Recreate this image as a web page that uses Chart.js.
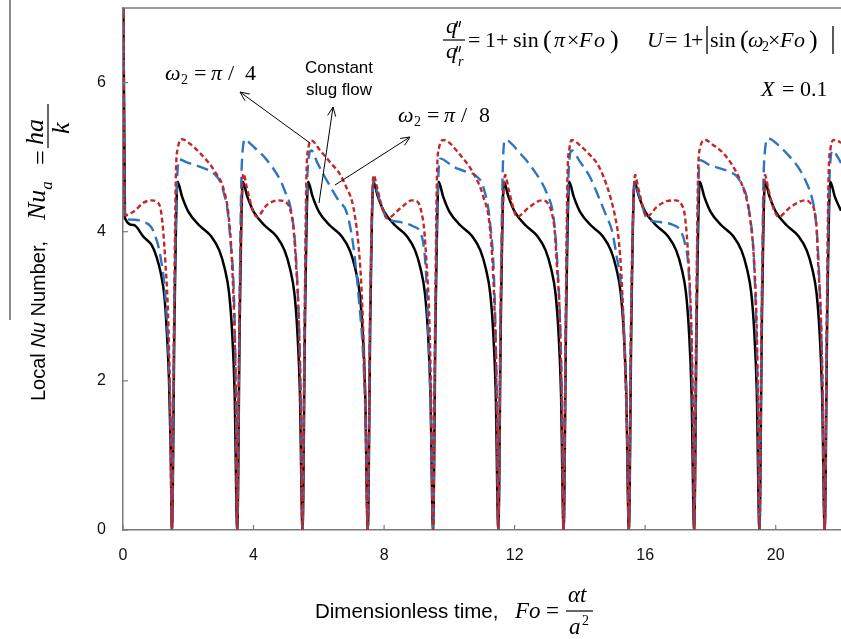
<!DOCTYPE html>
<html>
<head>
<meta charset="utf-8">
<script src="https://cdn.jsdelivr.net/npm/chart.js@4.4.1/dist/chart.umd.min.js"></script>
<style>
  html, body { margin: 0; padding: 0; background: #ffffff; }
  #wrap { width: 841px; height: 639px; }
</style>
</head>
<body>
<div id="wrap"><canvas id="c" width="841" height="639"></canvas></div>
<script>
// Tick positions
const xTicks = [0, 4, 8, 12, 16, 20];
const yTicks = [0, 2, 4, 6];

// Constant slug flow (solid black)
const foSlug = [
  0, 0.06, 0.33, 0.63, 0.88, 1.03, 1.16, 1.27, 1.34, 1.41, 1.46, 1.5,
  1.58, 1.67, 1.81, 2.0, 2.35, 2.7, 2.95, 3.12, 3.25, 3.34, 3.42, 3.5,
  3.58, 3.67, 3.81, 4.0, 4.35, 4.7, 4.95, 5.12, 5.25, 5.34, 5.42, 5.5,
  5.58, 5.67, 5.81, 6.0, 6.35, 6.7, 6.95, 7.12, 7.25, 7.34, 7.42, 7.5,
  7.58, 7.67, 7.81, 8.0, 8.35, 8.7, 8.95, 9.12, 9.25, 9.34, 9.42, 9.5,
  9.58, 9.67, 9.81, 10.0, 10.35, 10.7, 10.95, 11.12, 11.25, 11.34, 11.42, 11.5,
  11.58, 11.67, 11.81, 12.0, 12.35, 12.7, 12.95, 13.12, 13.25, 13.34, 13.42, 13.5,
  13.58, 13.67, 13.81, 14.0, 14.35, 14.7, 14.95, 15.12, 15.25, 15.34, 15.42, 15.5,
  15.58, 15.67, 15.81, 16.0, 16.35, 16.7, 16.95, 17.12, 17.25, 17.34, 17.42, 17.5,
  17.58, 17.67, 17.81, 18.0, 18.35, 18.7, 18.95, 19.12, 19.25, 19.34, 19.42, 19.5,
  19.58, 19.67, 19.81, 20.0, 20.35, 20.7, 20.95, 21.12, 21.25, 21.34, 21.42, 21.5,
  21.58, 21.67, 21.81, 22.0
];
const nuSlug = [
  8, 4.18, 4.09, 3.93, 3.82, 3.66, 3.44, 3.13, 2.68, 2.01, 1.12, 0,
  2.9, 4.67, 4.47, 4.27, 4.08, 3.94, 3.75, 3.5, 3.18, 2.68, 1.85, 0,
  2.9, 4.67, 4.47, 4.27, 4.08, 3.94, 3.75, 3.5, 3.18, 2.68, 1.85, 0,
  2.9, 4.67, 4.47, 4.27, 4.08, 3.94, 3.75, 3.5, 3.18, 2.68, 1.85, 0,
  2.9, 4.67, 4.47, 4.27, 4.08, 3.94, 3.75, 3.5, 3.18, 2.68, 1.85, 0,
  2.9, 4.67, 4.47, 4.27, 4.08, 3.94, 3.75, 3.5, 3.18, 2.68, 1.85, 0,
  2.9, 4.67, 4.47, 4.27, 4.08, 3.94, 3.75, 3.5, 3.18, 2.68, 1.85, 0,
  2.9, 4.67, 4.47, 4.27, 4.08, 3.94, 3.75, 3.5, 3.18, 2.68, 1.85, 0,
  2.9, 4.67, 4.47, 4.27, 4.08, 3.94, 3.75, 3.5, 3.18, 2.68, 1.85, 0,
  2.9, 4.67, 4.47, 4.27, 4.08, 3.94, 3.75, 3.5, 3.18, 2.68, 1.85, 0,
  2.9, 4.67, 4.47, 4.27, 4.08, 3.94, 3.75, 3.5, 3.18, 2.68, 1.85, 0,
  2.9, 4.67, 4.47, 4.28
];

// omega2 = pi/4 (red short dash)
const foW4 = [
  0, 0.06, 0.33, 0.63, 0.88, 1.03, 1.15, 1.23, 1.3, 1.38, 1.44, 1.5,
  1.56, 1.62, 1.68, 1.81, 2.05, 2.37, 2.78, 3.09, 3.24, 3.34, 3.44, 3.47, 3.5,
  3.57, 3.69, 3.79, 3.89, 3.99, 4.1, 4.41, 4.77, 4.97, 5.13, 5.23, 5.3, 5.38, 5.44, 5.5,
  5.56, 5.62, 5.68, 5.78, 6.04, 6.35, 6.65, 6.86, 7.01, 7.11, 7.22, 7.32, 7.42, 7.5,
  7.57, 7.68, 7.78, 7.88, 7.98, 8.09, 8.49, 8.85, 9.03, 9.13, 9.23, 9.3, 9.38, 9.44, 9.5,
  9.56, 9.62, 9.68, 9.82, 10.33, 10.74, 11.04, 11.25, 11.37, 11.45, 11.5,
  11.57, 11.71, 11.81, 11.91, 11.99, 12.07, 12.45, 12.83, 13.0, 13.14, 13.23, 13.29, 13.38, 13.44, 13.5,
  13.56, 13.62, 13.68, 13.75, 14.0, 14.26, 14.52, 14.72, 14.93, 15.08, 15.18, 15.28, 15.38, 15.45, 15.5,
  15.57, 15.69, 15.79, 15.89, 15.97, 16.05, 16.35, 16.66, 16.92, 17.12, 17.22, 17.33, 17.43, 17.47, 17.5,
  17.56, 17.62, 17.68, 17.84, 18.09, 18.4, 18.7, 18.91, 19.06, 19.16, 19.26, 19.34, 19.42, 19.46, 19.5,
  19.57, 19.67, 19.77, 19.87, 19.97, 20.08, 20.45, 20.9, 21.05, 21.2, 21.26, 21.3, 21.38, 21.44, 21.5,
  21.56, 21.62, 21.68, 21.78, 21.9, 22.0
];
const nuW4 = [
  8, 4.22, 4.27, 4.39, 4.42, 4.4, 4.31, 4.02, 3.58, 2.9, 1.8, 0,
  2.6, 4.75, 5.12, 5.24, 5.18, 5.05, 4.83, 4.56, 4.2, 3.58, 2.24, 1.3, 0,
  2.9, 4.78, 4.6, 4.42, 4.27, 4.2, 4.36, 4.42, 4.4, 4.29, 4.02, 3.58, 2.91, 1.8, 0,
  2.6, 4.75, 5.12, 5.22, 5.09, 4.93, 4.77, 4.58, 4.42, 4.2, 3.8, 3.13, 1.79, 0,
  2.9, 4.76, 4.6, 4.42, 4.27, 4.18, 4.31, 4.42, 4.4, 4.29, 4.02, 3.58, 2.91, 1.8, 0,
  2.6, 4.75, 5.12, 5.23, 5.03, 4.78, 4.47, 4.02, 3.13, 1.79, 0,
  2.9, 4.76, 4.58, 4.4, 4.27, 4.2, 4.33, 4.42, 4.39, 4.25, 4.0, 3.58, 2.9, 1.8, 0,
  2.6, 4.75, 5.12, 5.23, 5.16, 5.05, 4.92, 4.74, 4.47, 4.2, 3.93, 3.35, 2.23, 1.2, 0,
  2.9, 4.76, 4.58, 4.4, 4.27, 4.2, 4.33, 4.41, 4.42, 4.36, 4.2, 3.58, 2.46, 1.4, 0,
  2.6, 4.75, 5.12, 5.23, 5.16, 5.05, 4.87, 4.69, 4.51, 4.33, 4.02, 3.58, 2.68, 1.6, 0,
  2.9, 4.76, 4.58, 4.4, 4.27, 4.2, 4.33, 4.42, 4.39, 4.25, 4.0, 3.58, 2.9, 1.8, 0,
  2.6, 4.75, 5.12, 5.23, 5.22, 5.19
];

// omega2 = pi/8 (blue long dash)
const foW8 = [
  0, 0.06, 0.35, 0.63, 0.85, 1.0, 1.15, 1.3, 1.4, 1.46, 1.5,
  1.57, 1.65, 1.72, 1.96, 2.37, 2.78, 2.98, 3.1, 3.19, 3.29, 3.4, 3.46, 3.5,
  3.57, 3.64, 3.75, 3.9, 4.41, 4.82, 5.0, 5.13, 5.28, 5.38, 5.45, 5.5,
  5.57, 5.65, 5.77, 5.95, 6.14, 6.45, 6.6, 6.86, 7.06, 7.22, 7.37, 7.45, 7.5,
  7.57, 7.68, 7.78, 7.88, 7.98, 8.09, 8.49, 8.9, 9.16, 9.29, 9.38, 9.45, 9.5,
  9.57, 9.65, 9.72, 10.13, 10.54, 10.84, 11.04, 11.25, 11.37, 11.45, 11.5,
  11.57, 11.64, 11.71, 12.17, 12.58, 12.99, 13.19, 13.3, 13.4, 13.46, 13.5,
  13.57, 13.65, 13.75, 14.0, 14.3, 14.57, 14.82, 14.98, 15.13, 15.23, 15.33, 15.43, 15.5,
  15.57, 15.69, 15.79, 15.89, 15.97, 16.05, 16.45, 16.86, 17.07, 17.22, 17.33, 17.42, 17.47, 17.5,
  17.57, 17.63, 17.68, 17.99, 18.29, 18.6, 18.81, 19.0, 19.11, 19.21, 19.31, 19.4, 19.46, 19.5,
  19.57, 19.64, 19.77, 20.13, 20.44, 20.74, 20.95, 21.1, 21.2, 21.27, 21.35, 21.43, 21.5,
  21.57, 21.65, 21.75, 21.9, 22.0
];
const nuW8 = [
  8, 4.18, 4.16, 4.13, 4.07, 3.93, 3.66, 3.13, 2.3, 1.4, 0,
  2.9, 4.6, 4.97, 4.93, 4.87, 4.78, 4.67, 4.5, 4.33, 3.89, 3.13, 1.8, 0,
  3.0, 4.9, 5.24, 5.18, 4.96, 4.69, 4.5, 4.33, 3.8, 2.9, 1.7, 0,
  2.9, 4.75, 5.09, 4.93, 4.77, 4.53, 4.42, 4.25, 3.8, 3.13, 2.24, 1.2, 0,
  2.9, 4.67, 4.55, 4.4, 4.27, 4.18, 4.13, 4.07, 3.93, 3.4, 2.3, 1.2, 0,
  2.9, 4.6, 4.98, 4.87, 4.8, 4.74, 4.6, 4.11, 3.35, 1.9, 0,
  3.0, 4.9, 5.23, 5.05, 4.83, 4.51, 4.2, 3.64, 2.68, 1.5, 0,
  2.9, 4.75, 5.09, 4.94, 4.74, 4.47, 4.2, 4.02, 3.66, 3.4, 2.86, 1.7, 0,
  2.9, 4.67, 4.52, 4.38, 4.26, 4.18, 4.13, 4.09, 4.02, 3.84, 3.49, 2.5, 1.3, 0,
  2.9, 4.6, 4.96, 4.89, 4.85, 4.8, 4.74, 4.6, 4.47, 4.2, 3.8, 2.8, 1.5, 0,
  3.0, 4.9, 5.25, 5.14, 5.0, 4.83, 4.65, 4.47, 4.25, 3.93, 3.2, 2.0, 0,
  2.9, 4.75, 5.09, 5.0, 4.92
];

const SERIF = '"Liberation Serif", "Times New Roman", "DejaVu Serif", serif';
const SANS = '"Liberation Sans", Arial, "DejaVu Sans", sans-serif';
const AXIS_GREY = '#7a7a7a';

function pairs(xs, ys) { return xs.map((x, i) => ({ x: x, y: ys[i] })); }

function txt(ctx, s, x, y, font, align) {
  ctx.font = font;
  ctx.textAlign = align || 'left';
  ctx.textBaseline = 'alphabetic';
  ctx.fillText(s, x, y);
}
function seg(ctx, x1, y1, x2, y2, w, col) {
  ctx.beginPath();
  ctx.moveTo(x1, y1);
  ctx.lineTo(x2, y2);
  ctx.lineWidth = w;
  ctx.strokeStyle = col;
  ctx.stroke();
}
function arrow(ctx, x1, y1, x2, y2) {
  seg(ctx, x1, y1, x2, y2, 1, '#000');
  const a = Math.atan2(y2 - y1, x2 - x1), L = 10, s = 0.42;
  ctx.beginPath();
  ctx.moveTo(x2 - L * Math.cos(a - s), y2 - L * Math.sin(a - s));
  ctx.lineTo(x2, y2);
  ctx.lineTo(x2 - L * Math.cos(a + s), y2 - L * Math.sin(a + s));
  ctx.lineWidth = 1;
  ctx.strokeStyle = '#000';
  ctx.stroke();
}
// double prime drawn as two short slanted strokes
function dprime(ctx, x, y) {
  seg(ctx, x + 1.5, y, x, y + 6, 1.3, '#000');
  seg(ctx, x + 4.5, y, x + 3, y + 6, 1.3, '#000');
}

// Frame, inward ticks, equations and callouts
const decorations = {
  id: 'decorations',
  afterDraw(chart) {
    const ctx = chart.ctx;
    const area = chart.chartArea;
    const sx = chart.scales.x, sy = chart.scales.y;
    ctx.save();
    ctx.lineCap = 'butt';
    // top frame line
    seg(ctx, area.left, area.top, area.right, area.top, 1.5, AXIS_GREY);
    // inward tick marks
    xTicks.forEach(v => {
      const px = sx.getPixelForValue(v);
      seg(ctx, px, area.bottom, px, area.bottom - 5, 1.2, AXIS_GREY);
    });
    yTicks.forEach(v => {
      const py = sy.getPixelForValue(v);
      seg(ctx, area.left, py, area.left + 5, py, 1.2, AXIS_GREY);
    });

    ctx.fillStyle = '#000';
    const FI = 'italic 22px ' + SERIF, FR = '22px ' + SERIF, FP = '26px ' + SERIF;

    // heat flux equation
    txt(ctx, 'q', 446, 33, FI);
    dprime(ctx, 456, 21);
    seg(ctx, 443, 40, 465, 40, 1.2, '#000');
    txt(ctx, 'q', 446, 58, FI);
    dprime(ctx, 456, 46);
    txt(ctx, 'r', 458, 66, 'italic 14px ' + SERIF);
    txt(ctx, '=', 468, 47, FR);
    txt(ctx, '1', 485, 47, FR);
    txt(ctx, '+', 496, 47, FR);
    txt(ctx, 'sin', 513, 47, FR);
    txt(ctx, '(', 543, 48, FP);
    txt(ctx, '\u03c0', 554, 47, FI);
    txt(ctx, '\u00d7', 567, 47, FR);
    txt(ctx, 'F', 579, 47, FI);
    txt(ctx, 'o', 594, 47, FI);
    txt(ctx, ')', 610, 48, FP);

    // velocity equation
    txt(ctx, 'U', 647, 47, FI);
    txt(ctx, '=', 665, 47, FR);
    txt(ctx, '1', 682, 47, FR);
    txt(ctx, '+', 691, 47, FR);
    seg(ctx, 707, 26, 707, 54, 1.3, '#000');
    txt(ctx, 'sin', 710, 47, FR);
    txt(ctx, '(', 740, 48, FP);
    txt(ctx, '\u03c9', 748, 47, FI);
    txt(ctx, '2', 762, 51, '14px ' + SERIF);
    txt(ctx, '\u00d7', 768, 47, FR);
    txt(ctx, 'F', 780, 47, FI);
    txt(ctx, 'o', 794, 47, FI);
    txt(ctx, ')', 809, 48, FP);
    seg(ctx, 833, 26, 833, 54, 1.3, '#000');

    // axial position
    txt(ctx, 'X', 761, 96, FI);
    txt(ctx, '=', 782, 96, FR);
    txt(ctx, '0.1', 800, 96, FR);

    // series callouts
    txt(ctx, '\u03c9', 165, 80, 'italic 22px ' + SERIF);
    txt(ctx, '2', 181, 84, '14px ' + SERIF);
    txt(ctx, '=', 194, 80, '22px ' + SERIF);
    txt(ctx, '\u03c0', 211, 80, 'italic 22px ' + SERIF);
    txt(ctx, '/', 228, 80, '22px ' + SERIF);
    txt(ctx, '4', 245, 80, '22px ' + SERIF);

    txt(ctx, '\u03c9', 398, 122, 'italic 22px ' + SERIF);
    txt(ctx, '2', 414, 126, '14px ' + SERIF);
    txt(ctx, '=', 427, 122, '22px ' + SERIF);
    txt(ctx, '\u03c0', 444, 122, 'italic 22px ' + SERIF);
    txt(ctx, '/', 461, 122, '22px ' + SERIF);
    txt(ctx, '8', 479, 122, '22px ' + SERIF);

    txt(ctx, 'Constant', 339, 73, '17px ' + SANS, 'center');
    txt(ctx, 'slug flow', 339, 95, '17px ' + SANS, 'center');

    arrow(ctx, 310, 143, 240, 92);
    arrow(ctx, 319, 203, 333, 107);
    arrow(ctx, 335, 185, 410, 137);

    // x-axis title
    txt(ctx, 'Dimensionless time,', 315, 618, '20.5px ' + SANS);
    txt(ctx, 'Fo', 515, 618, 'italic 23px ' + SERIF);
    txt(ctx, '=', 546, 618, '23px ' + SERIF);
    txt(ctx, '\u03b1t', 568, 602, 'italic 23px ' + SERIF);
    seg(ctx, 566, 611, 593, 611, 1.2, '#000');
    txt(ctx, 'a', 569, 634, 'italic 23px ' + SERIF);
    txt(ctx, '2', 582, 625, '14px ' + SERIF);

    // y-axis title (rotated)
    ctx.save();
    ctx.translate(45, 401);
    ctx.rotate(-Math.PI / 2);
    let u = 0;
    const run = (s, font, v) => {
      ctx.font = font; ctx.textAlign = 'left'; ctx.textBaseline = 'alphabetic';
      ctx.fillText(s, u, v || 0);
      u += ctx.measureText(s).width;
    };
    run('Local ', '20px ' + SANS);
    run('Nu', 'italic 20px ' + SANS);
    run(' Number, ', '20px ' + SANS);
    u = 181;
    run('Nu', 'italic 26px ' + SERIF);
    run('a', 'italic 17px ' + SERIF, 7);
    txt(ctx, '=', 236, 4, '26px ' + SERIF);
    txt(ctx, 'ha', 256, -2, 'italic 26px ' + SERIF);
    seg(ctx, 253, 3, 297, 3, 1.2, '#000');
    txt(ctx, 'k', 267, 24, 'italic 26px ' + SERIF);
    ctx.restore();

    // stray rule left of the y-axis title
    seg(ctx, 10, 0, 10, 320, 2, '#8c8c8c');

    ctx.restore();
  }
};

const tickFont = { family: SANS, size: 16 };

new Chart(document.getElementById('c'), {
  type: 'line',
  data: {
    datasets: [
      {
        label: '\u03c9\u2082 = \u03c0/4',
        data: pairs(foW4, nuW4),
        borderColor: '#c0282d',
        borderWidth: 2.4,
        borderDash: [5, 3],
        order: 0
      },
      {
        label: '\u03c9\u2082 = \u03c0/8',
        data: pairs(foW8, nuW8),
        borderColor: '#2e75c0',
        borderWidth: 2.4,
        borderDash: [12, 6],
        order: 1
      },
      {
        label: 'Constant slug flow',
        data: pairs(foSlug, nuSlug),
        borderColor: '#000000',
        borderWidth: 2.5,
        order: 2
      }
    ]
  },
  options: {
    responsive: false,
    animation: false,
    events: [],
    layout: { padding: { left: 0, right: 0, top: 8, bottom: 0 } },
    plugins: { legend: { display: false }, tooltip: { enabled: false } },
    elements: {
      point: { radius: 0 },
      line: { cubicInterpolationMode: 'monotone', fill: false }
    },
    scales: {
      x: {
        type: 'linear',
        min: 0,
        max: 22,
        afterBuildTicks: s => { s.ticks = xTicks.map(v => ({ value: v })); },
        afterFit: s => { s.height = 109; s.paddingLeft = 0; s.paddingRight = 0; },
        grid: { display: false, drawTicks: false },
        border: { display: true, color: AXIS_GREY, width: 1.5 },
        ticks: { padding: 16, font: tickFont, color: '#111', maxRotation: 0, autoSkip: false }
      },
      y: {
        type: 'linear',
        min: 0,
        max: 7,
        afterBuildTicks: s => { s.ticks = yTicks.map(v => ({ value: v })); },
        afterFit: s => { s.width = 123; s.paddingTop = 0; s.paddingBottom = 0; },
        grid: { display: false, drawTicks: false },
        border: { display: true, color: AXIS_GREY, width: 1.5 },
        ticks: { padding: 17, font: tickFont, color: '#111', autoSkip: false }
      }
    }
  },
  plugins: [decorations]
});
</script>
</body>
</html>
